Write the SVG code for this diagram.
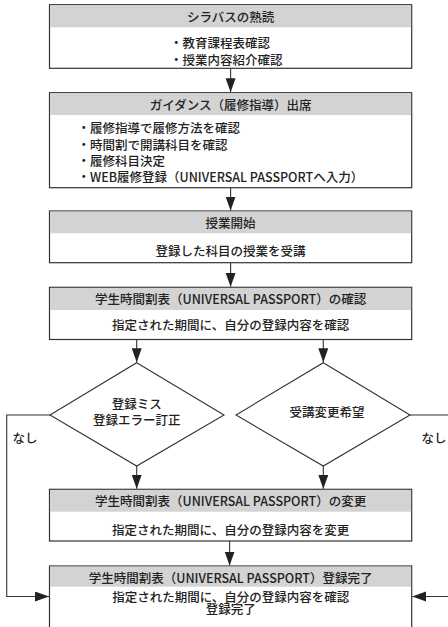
<svg xmlns="http://www.w3.org/2000/svg" width="448" height="627" viewBox="0 0 448 627">
<defs>
<style>
.box{fill:#fff;stroke:#333;stroke-width:1.2}
.hd{fill:#d3d3d3;stroke:none}
.t{font-family:"Noto Sans CJK JP","Noto Sans",sans-serif;font-size:12.5px;font-weight:500;fill:#222;dominant-baseline:central}
.c{text-anchor:middle}
.ln{fill:none;stroke:#333;stroke-width:1.1}
.dm{fill:#fff;stroke:#333;stroke-width:1.1}
</style>
<marker id="ah" markerUnits="userSpaceOnUse" markerWidth="15" markerHeight="11" refX="14" refY="5" orient="auto">
<path d="M0,0 L14,5 L0,10 z" fill="#222"/>
</marker>
</defs>
<rect width="448" height="627" fill="#fff"/>
<g id="connectors">
<path class="ln" d="M230.6,68.3 V92.2" marker-end="url(#ah)"/>
<path class="ln" d="M230.6,187.7 V210.5" marker-end="url(#ah)"/>
<path class="ln" d="M230.6,262.7 V286.8" marker-end="url(#ah)"/>
<path class="ln" d="M136.7,339.5 V362.2" marker-end="url(#ah)"/>
<path class="ln" d="M323.3,339.5 V362.2" marker-end="url(#ah)"/>
<path class="ln" d="M136.7,466 V488.8" marker-end="url(#ah)"/>
<path class="ln" d="M323.3,466 V488.8" marker-end="url(#ah)"/>
<path class="ln" d="M229.6,541 V565.5" marker-end="url(#ah)"/>
<path class="ln" d="M50,415 H6.7 V596.5 H49" marker-end="url(#ah)"/>
<path class="ln" d="M410,415 H460 V596.5 H412.3" marker-end="url(#ah)"/>
<text class="t" x="25" y="437" text-anchor="middle">なし</text>
<text class="t" x="434" y="437" text-anchor="middle">なし</text>
</g>
<g id="n1">
<rect class="box" x="49.5" y="4.7" width="362.2" height="63.6"/>
<rect class="hd" x="50.1" y="5.3" width="361" height="22"/>
<text class="t c" x="230.6" y="16.5">シラバスの熟読</text>
<text class="t" x="170" y="42.5">・教育課程表確認</text>
<text class="t" x="170" y="59.3">・授業内容紹介確認</text>
</g>
<g id="n2">
<rect class="box" x="49.5" y="92.7" width="362.2" height="95"/>
<rect class="hd" x="50.1" y="93.3" width="361" height="21.7"/>
<text class="t c" x="230.6" y="104.5">ガイダンス（履修指導）出席</text>
<text class="t" x="77.5" y="127.7">・履修指導で履修方法を確認</text>
<text class="t" x="77.5" y="144">・時間割で開講科目を確認</text>
<text class="t" x="77.5" y="160.2">・履修科目決定</text>
<text class="t" x="77.5" y="176.4">・WEB履修登録（UNIVERSAL PASSPORTへ入力）</text>
</g>
<g id="n3">
<rect class="box" x="49.5" y="211" width="362.2" height="51.7"/>
<rect class="hd" x="50.1" y="211.6" width="361" height="21.7"/>
<text class="t c" x="230.6" y="222.5">授業開始</text>
<text class="t c" x="230.6" y="250">登録した科目の授業を受講</text>
</g>
<g id="n4">
<rect class="box" x="49.5" y="287.3" width="362.2" height="52.2"/>
<rect class="hd" x="50.1" y="287.9" width="361" height="22.1"/>
<text class="t c" x="230.6" y="298.5">学生時間割表（UNIVERSAL PASSPORT）の確認</text>
<text class="t c" x="230.6" y="324.5">指定された期間に、自分の登録内容を確認</text>
</g>
<g id="d1">
<polygon class="dm" points="136.7,362.7 224,415 136.7,466 50,415"/>
<text class="t c" x="136.7" y="403">登録ミス</text>
<text class="t c" x="136.7" y="419.5">登録エラー訂正</text>
</g>
<g id="d2">
<polygon class="dm" points="323.3,362.7 410,415 323.3,466 236,415"/>
<text class="t c" x="327" y="411.7">受講変更希望</text>
</g>
<g id="n5">
<rect class="box" x="49.5" y="489.3" width="362.2" height="51.7"/>
<rect class="hd" x="50.1" y="489.9" width="361" height="21.8"/>
<text class="t c" x="230.6" y="500.7">学生時間割表（UNIVERSAL PASSPORT）の変更</text>
<text class="t c" x="230.6" y="529.3">指定された期間に、自分の登録内容を変更</text>
</g>
<g id="n6">
<rect class="box" x="49.5" y="566" width="362.2" height="70"/>
<rect class="hd" x="50.1" y="566.6" width="361" height="20.1"/>
<text class="t c" x="230.6" y="577">学生時間割表（UNIVERSAL PASSPORT）登録完了</text>
<text class="t c" x="230.8" y="596">指定された期間に、自分の登録内容を確認</text>
<text class="t c" x="230.8" y="608.7">登録完了</text>
</g>
</svg>
